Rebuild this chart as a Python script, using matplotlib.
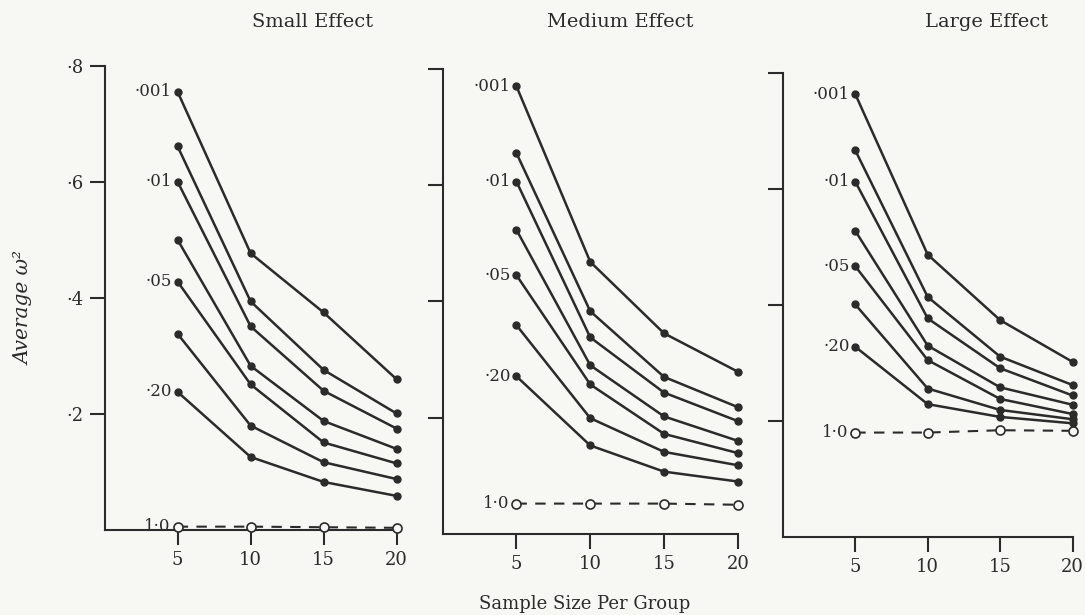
import matplotlib
matplotlib.use("Agg")
import matplotlib.pyplot as plt

# sample size per group
n = [5, 10, 15, 20]

# labels for the solid curves (alpha levels), top to bottom; blank = unlabelled
alpha_labels = ["·001", "", "·01", "", "·05", "", "·20"]
base_label = "1·0"

# average omega^2, one row per alpha curve, columns follow n
small = [
    [0.755, 0.477, 0.375, 0.260],
    [0.661, 0.394, 0.276, 0.201],
    [0.600, 0.351, 0.240, 0.175],
    [0.500, 0.283, 0.188, 0.140],
    [0.428, 0.251, 0.151, 0.115],
    [0.338, 0.180, 0.117, 0.088],
    [0.238, 0.126, 0.083, 0.059],
]
small_base = [0.006, 0.006, 0.005, 0.004]

medium = [
    [0.770, 0.468, 0.345, 0.279],
    [0.655, 0.383, 0.270, 0.218],
    [0.606, 0.338, 0.243, 0.194],
    [0.523, 0.290, 0.202, 0.160],
    [0.445, 0.257, 0.172, 0.139],
    [0.359, 0.199, 0.141, 0.118],
    [0.271, 0.152, 0.107, 0.090],
]
medium_base = [0.052, 0.052, 0.052, 0.050]

large = [
    [0.764, 0.487, 0.374, 0.302],
    [0.667, 0.414, 0.311, 0.262],
    [0.613, 0.377, 0.291, 0.244],
    [0.528, 0.330, 0.258, 0.228],
    [0.467, 0.305, 0.238, 0.212],
    [0.401, 0.256, 0.219, 0.203],
    [0.328, 0.229, 0.207, 0.196],
]
large_base = [0.180, 0.180, 0.184, 0.183]

titles = ["Small Effect", "Medium Effect", "Large Effect"]
y_ticks = [0.2, 0.4, 0.6, 0.8]
y_ticklabels = ["·2", "·4", "·6", "·8"]

ink = "#2b2b2b"
paper = "#f7f7f4"
plt.rcParams["font.family"] = ["DejaVu Serif"]

fig = plt.figure(figsize=(10.85, 6.15), dpi=100, facecolor=paper)

# axes boxes (left, bottom, width, height)
boxes = [
    [0.0965, 0.138, 0.269, 0.755],
    [0.408, 0.132, 0.272, 0.756],
    [0.7215, 0.127, 0.267, 0.754],
]
panels = [(small, small_base), (medium, medium_base), (large, large_base)]
title_x = [0.288, 0.572, 0.909]

for i, (curves, base) in enumerate(panels):
    ax = fig.add_axes(boxes[i])
    ax.set_facecolor("none")

    for vals, lab in zip(curves, alpha_labels):
        ax.plot(n, vals, color=ink, lw=1.8, marker="o", ms=5,
                mfc=ink, mec=ink, clip_on=False, zorder=3)
        if lab:
            ax.annotate(lab, (n[0], vals[0]), xytext=(-4, 0),
                        textcoords="offset points", ha="right", va="center",
                        fontsize=12, color=ink)

    ax.plot(n, base, color=ink, lw=1.5, ls=(0, (5, 4)), marker="o", ms=6.5,
            mfc=paper, mec=ink, mew=1.2, clip_on=False, zorder=3)
    ax.annotate(base_label, (n[0], base[0]), xytext=(-5, 0),
                textcoords="offset points", ha="right", va="center",
                fontsize=12, color=ink)

    ax.set_xlim(0, 20)
    ax.set_ylim(0, 0.8)
    ax.set_xticks(n)
    ax.set_xticklabels([str(v) for v in n])
    ax.set_yticks(y_ticks)
    if i == 0:
        ax.set_yticklabels(y_ticklabels)
    else:
        ax.set_yticklabels([])

    for s in ["top", "right"]:
        ax.spines[s].set_visible(False)
    for s in ["left", "bottom"]:
        ax.spines[s].set_color(ink)
        ax.spines[s].set_linewidth(1.5)
    ax.tick_params(axis="both", direction="out", length=11, width=1.5,
                   color=ink, labelcolor=ink, labelsize=13, pad=4)

    fig.text(title_x[i], 0.964, titles[i], ha="center", va="center",
             fontsize=14, color=ink)

fig.text(0.022, 0.50, "Average ω²", rotation=90, ha="center", va="center",
         fontsize=14.5, style="italic", color=ink)
fig.text(0.539, 0.018, "Sample Size Per Group", ha="center", va="center",
         fontsize=13, color=ink)

fig.savefig("out.png", dpi=100, facecolor=paper)
